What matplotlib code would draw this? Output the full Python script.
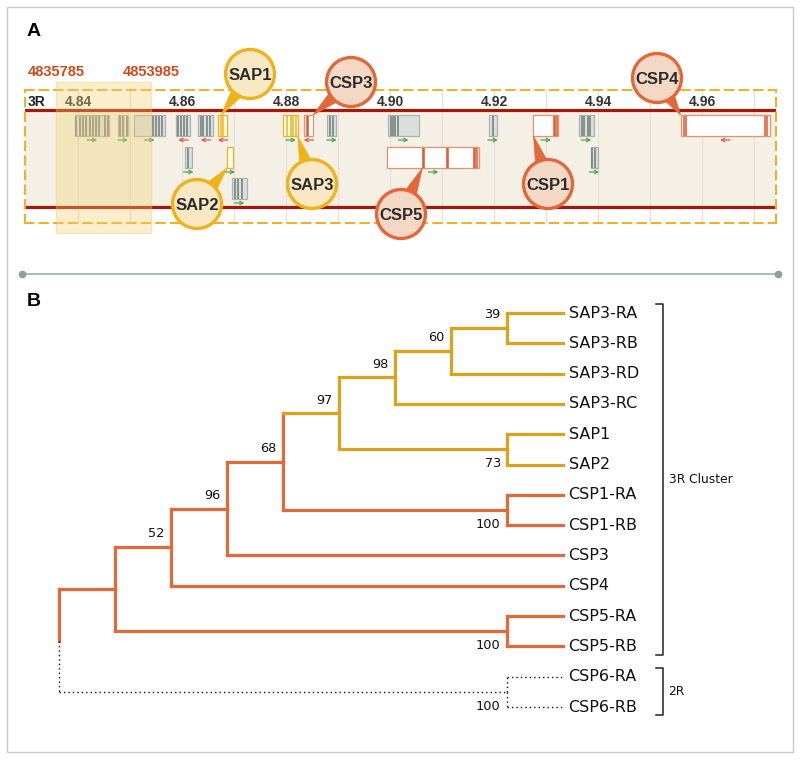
import matplotlib
matplotlib.use("Agg")
import matplotlib.pyplot as plt
import numpy as np
from matplotlib.patches import Rectangle, Circle, Polygon
from matplotlib import font_manager

# ---------------- panel A data: genes on 3R (Mb) ----------------
gene_name = ['', '', '', '', '', 'SAP1', 'SAP3', 'CSP3', '', '', '', 'CSP1', '', 'CSP4',
             '', 'SAP2', 'CSP5', '', '']
gene_start = [4.8394, 4.8477, 4.8508, 4.8589, 4.8631, 4.8670, 4.8795, 4.8835, 4.8879, 4.8997,
              4.9191, 4.9276, 4.9363, 4.9559, 4.8606, 4.8687, 4.8995, 4.9386, 4.8696]
gene_end = [4.8460, 4.8496, 4.8567, 4.8616, 4.8660, 4.8687, 4.8824, 4.8852, 4.8897, 4.9055,
            4.9205, 4.9324, 4.9392, 4.9730, 4.8619, 4.8698, 4.9172, 4.9400, 4.8725]
gene_strand = [1, 1, 1, -1, -1, -1, 1, -1, 1, 1, 1, 1, 1, -1, 1, 1, 1, 1, 1]
gene_lane = [0, 0, 0, 0, 0, 0, 0, 0, 0, 0, 0, 0, 0, 0, 1, 1, 1, 1, 2]
gene_exons = [
    [4.8397, 4.8404, 4.8409, 4.8415, 4.8423, 4.8429, 4.8435, 4.8441, 4.8451, 4.8457],
    [4.8481, 4.8487, 4.8494],
    [4.8545, 4.8550, 4.8555, 4.8561],
    [4.8593, 4.8598, 4.8603, 4.8609],
    [4.8636, 4.8641, 4.8648, 4.8654],
    [4.8675, 4.8678],
    [4.8802, 4.8809, 4.8814, 4.8819],
    [4.8840, 4.8843],
    [4.8885, 4.8890],
    [4.9002, 4.9006, 4.9010, 4.9015],
    [4.9199],
    [4.9315, 4.9318, 4.9321],
    [4.9370, 4.9374, 4.9380, 4.9385],
    [4.9565, 4.9570, 4.9722, 4.9726],
    [4.8611],
    [],
    [4.9063, 4.9065, 4.9110, 4.9112, 4.9161, 4.9164, 4.9167],
    [4.9389, 4.9394],
    [4.8702, 4.8708, 4.8715],
]
tick_mb = [4.84, 4.86, 4.88, 4.90, 4.92, 4.94, 4.96]
region_start = 4835785
region_end = 4853985

# ---------------- panel B data: tree ----------------
def clade(*children, support=None):
    return {'children': list(children), 'support': support}

tree = clade(
    clade(
        clade(
            clade(
                clade(
                    clade(
                        clade(
                            clade(clade('SAP3-RA', 'SAP3-RB', support=39), 'SAP3-RD', support=60),
                            'SAP3-RC', support=98),
                        clade('SAP1', 'SAP2', support=73), support=97),
                    clade('CSP1-RA', 'CSP1-RB', support=100), support=68),
                'CSP3', support=96),
            'CSP4', support=52),
        clade('CSP5-RA', 'CSP5-RB', support=100)),
    clade('CSP6-RA', 'CSP6-RB', support=100))

cluster_names = ['3R Cluster', '2R']
cluster_first = ['SAP3-RA', 'CSP6-RA']
cluster_last = ['CSP5-RB', 'CSP6-RB']

# ---------------- styles ----------------
GOLD = '#dba21e'
ORANGE = '#e4693a'
SAP_EDGE, SAP_FILL = '#f0b219', '#f8e9c4'
CSP_EDGE, CSP_FILL = '#e2683a', '#f3d8c6'


def pick_font(names):
    have = {f.name for f in font_manager.fontManager.ttflist}
    for n in names:
        if n in have:
            return n
    return 'DejaVu Sans'


arial = pick_font(['Liberation Sans', 'DejaVu Sans'])

W, H = 800, 760
fig = plt.figure(figsize=(W / 100, H / 100), dpi=100)
fig.patch.set_facecolor('white')

# ---------------- panel A: genome browser ----------------
box_x0, box_x1, box_y0, box_y1 = 25, 776, 90, 223
ax_a = fig.add_axes([box_x0 / W, 1 - box_y1 / H, (box_x1 - box_x0) / W, (box_y1 - box_y0) / H])
px_per_mb = 5195.0
ax_a.set_xlim(4.84 - (78 - box_x0) / px_per_mb, 4.96 + (box_x1 - 702) / px_per_mb)
ax_a.set_ylim(box_y1, box_y0)
ax_a.set_xticks([])
ax_a.set_yticks([])
for sp in ax_a.spines.values():
    sp.set_color('#f0b02a')
    sp.set_linestyle((0, (4, 3)))
    sp.set_linewidth(1.5)

band_top, band_bot = 110, 207
ax_a.axhspan(band_top, band_bot, color='#f4f0e6', zorder=0)
for g in np.arange(4.84, 4.975, 0.01):
    ax_a.axvline(g, color='#e3dfd5', lw=0.8, zorder=0.5)
ax_a.axhline(band_top, color='#a3180b', lw=2.3, zorder=1)
ax_a.axhline(band_bot, color='#a3180b', lw=2.3, zorder=1)

for t in tick_mb:
    ax_a.text(t, 102, f'{t:.2f}', ha='center', va='center', fontsize=10,
              fontweight='bold', color='#333333', family=arial)
ax_a.text(4.84 - 50 / px_per_mb, 102, '3R', ha='left', va='center', fontsize=10,
          fontweight='bold', color='#222222', family=arial)

lane_top = [115, 147, 178]
box_h = 21
for i in range(len(gene_start)):
    s, e = gene_start[i], gene_end[i]
    top = lane_top[gene_lane[i]]
    name = gene_name[i]
    if name.startswith('SAP'):
        fc, ec, sc = '#fffdf4', SAP_EDGE, SAP_EDGE
    elif name.startswith('CSP'):
        fc, ec, sc = 'white', '#ec8f6c', '#e0532a'
    else:
        fc, ec, sc = '#dadfde', '#a9b3b1', '#6f7c79'
    ax_a.add_patch(Rectangle((s, top), e - s, box_h, fc=fc, ec=ec, lw=0.9, zorder=2))
    if gene_exons[i]:
        ax_a.vlines(gene_exons[i], top + 0.5, top + box_h - 0.5, color=sc, lw=1.1, zorder=3)
    xc = (s + e) / 2
    dx = 5 / px_per_mb * gene_strand[i]
    ya = top + box_h + 4
    col = '#4aa64a' if gene_strand[i] > 0 else '#e4574f'
    ax_a.annotate('', xy=(xc + dx, ya), xytext=(xc - dx, ya),
                  arrowprops=dict(arrowstyle='->', color=col, lw=0.9, shrinkA=0, shrinkB=0,
                                  mutation_scale=6), zorder=3)

# selected region highlight
rs, re_ = region_start / 1e6, region_end / 1e6
ax_a.add_patch(Rectangle((rs, 82), re_ - rs, 151, fc='#f5cf6e', alpha=0.35, ec='#f0c25a',
                         lw=1.0, clip_on=False, zorder=4))
for v in (region_start, region_end):
    ax_a.text(v / 1e6, 72, str(v), ha='center', va='center', fontsize=10.5,
              fontweight='bold', color='#d2491b', family=arial, clip_on=False)

# ---------------- overlay in pixel coordinates ----------------
ax_o = fig.add_axes([0, 0, 1, 1], zorder=5)
ax_o.set_xlim(0, W)
ax_o.set_ylim(H, 0)
ax_o.axis('off')
ax_o.add_patch(Rectangle((7, 7), 786, 745, fill=False, ec='#c9c9c9', lw=1.0))
ax_o.text(27, 32, 'A', fontsize=14, fontweight='bold', va='center', ha='left', family=arial)
ax_o.text(27, 301, 'B', fontsize=14, fontweight='bold', va='center', ha='left', family=arial)
ax_o.plot([22, 778], [274, 274], color='#9bb0ab', lw=1.2)
ax_o.plot([22, 778], [274, 274], 'o', color='#8aa29c', ms=4.5)


def to_px(x, y):
    d = ax_a.transData.transform((x, y))
    return d[0], H - d[1]


# callouts: circle centre (px) and anchor on the gene (fraction along, top/bottom)
callouts = {
    'SAP1': ((250, 74), 0.33, 'top'),
    'SAP2': ((197, 204), 0.0, 'bottom'),
    'SAP3': ((312, 184), 0.95, 'bottom'),
    'CSP3': ((351, 82), 1.0, 'top'),
    'CSP5': ((401, 214), 0.38, 'bottom'),
    'CSP1': ((548, 184), 0.0, 'bottom'),
    'CSP4': ((657, 78), 0.0, 'top'),
}
r = 24.5
for name, ((cx, cy), frac, side) in callouts.items():
    i = gene_name.index(name)
    top = lane_top[gene_lane[i]]
    gx = gene_start[i] + frac * (gene_end[i] - gene_start[i])
    gy = top if side == 'top' else top + box_h
    tx, ty = to_px(gx, gy)
    ec, fc = (SAP_EDGE, SAP_FILL) if name.startswith('SAP') else (CSP_EDGE, CSP_FILL)
    d = np.array([tx - cx, ty - cy])
    d = d / np.hypot(*d)
    p = np.array([-d[1], d[0]])
    base = np.array([cx, cy]) + d * r * 0.75
    ax_o.add_patch(Polygon([base + p * 7, (tx, ty), base - p * 7], closed=True,
                           fc=ec, ec=ec, lw=0.5, zorder=6))
    ax_o.add_patch(Circle((cx, cy), r, fc=fc, ec=ec, lw=2.4, zorder=7))
    ax_o.text(cx, cy + 1, name, ha='center', va='center', fontsize=12, fontweight='bold',
              family=arial, color='#2b2b2b', zorder=8)

# ---------------- panel B: tree ----------------
leaf_order = []


def collect(node):
    if isinstance(node, str):
        leaf_order.append(node)
    else:
        for c in node['children']:
            collect(c)


collect(tree)


def leaves(node):
    if isinstance(node, str):
        return [node]
    out = []
    for c in node['children']:
        out += leaves(c)
    return out


def style(node):
    lv = leaves(node)
    if all(n.startswith('CSP6') for n in lv):
        return dict(color='#111111', lw=1.0, ls=(0, (1, 2.2)))
    if all(n.startswith('SAP') for n in lv):
        return dict(color=GOLD, lw=2.3, ls='-')
    return dict(color=ORANGE, lw=2.3, ls='-')


def layout(node):
    if isinstance(node, str):
        return {'name': node, 'y': leaf_order.index(node), 'h': 0, 'node': node}
    kids = [layout(c) for c in node['children']]
    return {'kids': kids, 'y': (kids[0]['y'] + kids[-1]['y']) / 2,
            'h': 1 + max(k['h'] for k in kids), 'node': node}


lay = layout(tree)
xmax = lay['h']

ax_b = fig.add_axes([59 / W, 1 - 707 / H, 504 / W, 394 / H])
ax_b.set_xlim(0, xmax)
ax_b.set_ylim(len(leaf_order) - 1, 0)
ax_b.axis('off')


def seg(xs, ys, st):
    ax_b.plot(xs, ys, color=st['color'], lw=st['lw'], ls=st['ls'],
              solid_capstyle='projecting', clip_on=False)


def draw(n, is_root=False):
    if 'kids' not in n:
        ax_b.annotate(n['name'], (xmax, n['y']), xytext=(4, 0), textcoords='offset points',
                      ha='left', va='center', fontsize=11.5, color='#111111',
                      annotation_clip=False)
        return
    x = xmax - n['h']
    st_n = style(n['node'])
    for k, kid in enumerate(n['kids']):
        st_k = style(kid['node'])
        kx = xmax - kid['h']
        seg([x, x], [n['y'], kid['y']], st_k if is_root else st_n)
        seg([x, kx], [kid['y'], kid['y']], st_k)
        if 'kids' in kid and kid['node']['support'] is not None:
            off = (-4.5, 9.5) if k == 0 else (-4.5, -10.5)
            ax_b.annotate(str(kid['node']['support']), (kx, kid['y']), xytext=off,
                          textcoords='offset points', ha='right', va='center',
                          fontsize=9.3, color='#111111', annotation_clip=False)
        draw(kid)


draw(lay, is_root=True)

# clade brackets
bx = xmax + 100 / 56.0
for cname, f, l in zip(cluster_names, cluster_first, cluster_last):
    y0 = leaf_order.index(f) - 0.3
    y1 = leaf_order.index(l) + 0.28
    ax_b.plot([bx - 0.13, bx, bx, bx - 0.13], [y0, y0, y1, y1], color='#222222', lw=1.1,
              clip_on=False)
    ax_b.annotate(cname, (bx, (y0 + y1) / 2), xytext=(4, 0), textcoords='offset points',
                  ha='left', va='center', fontsize=8.8, color='#111111',
                  annotation_clip=False)

fig.savefig('out.png', dpi=100)
